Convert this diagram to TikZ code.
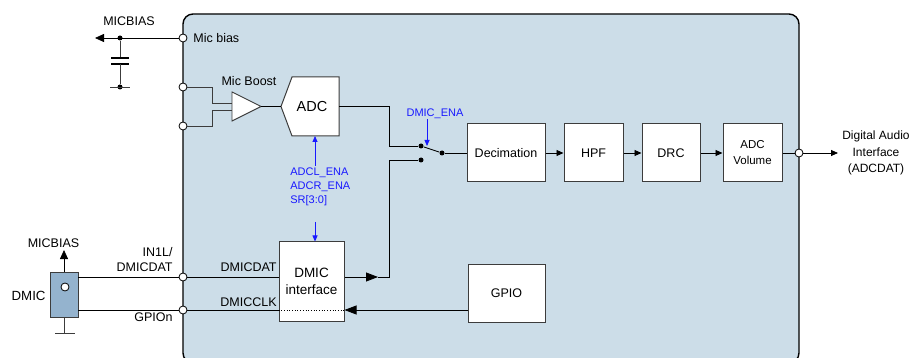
\documentclass[tikz,border=0pt]{standalone}
\usepackage{fontspec}
\setmainfont{Liberation Sans}
\usetikzlibrary{arrows.meta}
\definecolor{chip}{RGB}{204,221,232}
\definecolor{micfill}{RGB}{148,179,206}
\definecolor{sigblue}{RGB}{25,25,255}
\definecolor{edge}{RGB}{60,60,60}
\begin{document}
\begin{tikzpicture}[x=1pt,y=-1pt,
  font=\fontsize{12.5}{14}\selectfont,
  line width=0.8pt,
  blk/.style={draw=edge, fill=white, line width=1pt, inner sep=0pt, minimum height=58pt, align=center},
  pin/.style={circle, draw=black, fill=white, line width=0.8pt, inner sep=0pt, minimum size=8pt},
  jdot/.style={circle, fill=black, inner sep=0pt, minimum size=5pt},
  arr/.style={-{Triangle[length=7pt,width=6pt]}},
  bigarr/.style={-{Triangle[length=12pt,width=9pt]}},
  midarr/.style={-{Triangle[length=9pt,width=8pt]}},
  barr/.style={draw=sigblue, -{Triangle[length=6pt,width=5pt]}},
  bluetxt/.style={font=\fontsize{11}{13}\selectfont, text=sigblue, inner sep=0pt},
  lbl/.style={inner sep=0pt}
]
\useasboundingbox (0,0) rectangle (913,358);
\clip (0,0) rectangle (913,358);

% chip outline
\draw[fill=chip, line width=1.4pt, rounded corners=10pt] (183,14) rectangle (799,363);

% pins
\node[pin] (pbias) at (183,38) {};
\node[pin] (pin1) at (183,87) {};
\node[pin] (pin2) at (183,126) {};
\node[pin] (pdat) at (183,277) {};
\node[pin] (pclk) at (183,310) {};
\node[pin] (pout) at (799,153) {};

% mic bias with capacitor
\node[jdot] (jb) at (120,38) {};
\coordinate (biasend) at (95,38);
\draw[midarr] (pbias.west) -- (biasend);
\node[lbl] (lmicbias) at (129,21) {MICBIAS};
\node[lbl, anchor=west] (lbias) at (193,38) {Mic bias};
\coordinate (capa) at (120,58);
\coordinate (capb) at (120,64);
\node[jdot] (capgnd) at (120,87) {};
\draw[draw=edge] (jb) -- (capa);
\draw[line width=2.2pt] (111,58) -- (129,58);
\draw[line width=2.2pt] (111,64) -- (129,64);
\draw[draw=edge] (capb) -- (capgnd);
\draw[draw=edge] (110,87) -- (130,87);

% mic boost
\coordinate (triA) at (232,92);
\coordinate (triB) at (261,106.5);
\coordinate (triC) at (232,121);
\draw[draw=edge, fill=white, line width=0.9pt] (triA) -- (triB) -- (triC) -- cycle;
\node[lbl] (lboost) at (249,81) {Mic Boost};
\draw[draw=edge] (pin1.east) -- (212,87) -- (212,103.5) -- (232,103.5);
\draw[draw=edge] (pin2.east) -- (212,126) -- (212,110) -- (232,110);

% ADC
\coordinate (adcL) at (281,106.5);
\coordinate (adcR) at (339,106.5);
\coordinate (adcB) at (315,136);
\draw[draw=edge, fill=white, line width=1pt] (292,77) -- (339,77) -- (339,136) -- (292,136) -- (adcL) -- cycle;
\node[lbl, font=\fontsize{14.5}{16}\selectfont] (adc) at (312,106.5) {ADC};
\draw (triB) -- (adcL);

% switch
\node[jdot] (sw1) at (421,146) {};
\node[jdot] (sw2) at (421,160) {};
\node[jdot] (swc) at (442,153) {};
\draw (adcR) -- (389,106.5) -- (389,146) -- (sw1);
\draw (sw1) -- (swc);

% processing chain
\node[blk, minimum width=78pt] (dec) at (506,153) {Decimation};
\node[blk, minimum width=59pt] (hpf) at (593.5,153) {HPF};
\node[blk, minimum width=58pt] (drc) at (671,153) {DRC};
\node[blk, minimum width=59pt, font=\fontsize{11.5}{16}\selectfont] (vol) at (752.5,153) {ADC\\Volume};
\draw (swc) -- (dec.west);
\draw[arr] (dec) -- (hpf);
\draw[arr] (hpf) -- (drc);
\draw[arr] (drc) -- (vol);
\draw (vol.east) -- (pout);
\coordinate (outend) at (838,153);
\draw[arr] (pout) -- (outend);
\node[lbl, align=center, font=\fontsize{12}{16.5}\selectfont] (ldai) at (876,153) {Digital Audio\\Interface\\(ADCDAT)};

% DMIC_ENA
\node[bluetxt] (lena) at (435,114) {DMIC\_ENA};
\coordinate (enatip) at (427,146);
\draw[barr] (lena.south -| enatip) -- (enatip);

% ADC enables
\node[bluetxt, anchor=west] (l1) at (290,173) {ADCL\_ENA};
\node[bluetxt, anchor=west] (l2) at (290,187) {ADCR\_ENA};
\node[bluetxt, anchor=west] (l3) at (290,200.5) {SR[3:0]};
\coordinate (upstart) at (315,166);
\coordinate (dnstart) at (315,222);

% DMIC interface
\node[blk, minimum width=65pt, minimum height=79pt, font=\fontsize{13.5}{17}\selectfont] (dmicif) at (311.5,281.5) {DMIC\\interface};
\draw[barr] (upstart) -- (adcB);
\draw[barr] (dnstart) -- (dmicif.north -| dnstart);
\draw[dotted, line width=0.7pt] (dmicif.west |- pclk) -- (dmicif.east |- pclk);

% DMIC interface output to switch
\coordinate (ah1) at (378,277);
\draw[bigarr] (dmicif.east |- pdat) -- (ah1);
\draw (ah1) -- (389,277) -- (389,160) -- (sw2);

% GPIO
\node[blk, minimum width=77pt] (gpio) at (506.5,293) {GPIO};
\draw[bigarr] (gpio.west |- pclk) -- (dmicif.east |- pclk);
\draw (dmicif.west |- pclk) -- (pclk);
\draw (pdat) -- (dmicif.west |- pdat);
\node[lbl, anchor=east] (ldat) at (277,267) {DMICDAT};
\node[lbl, anchor=east] (lclk) at (277,302) {DMICCLK};

% external DMIC
\node[draw=edge, fill=micfill, minimum width=28pt, minimum height=45pt, inner sep=0pt, line width=0.9pt] (mic) at (64,294.5) {};
\node[circle, draw=black, fill=white, inner sep=0pt, minimum size=8pt, line width=0.8pt] (micdot) at (65,287) {};
\coordinate (micarr) at (64,250);
\draw[midarr] (mic.north) -- (micarr);
\node[lbl] (lmicbias2) at (53.5,243) {MICBIAS};
\coordinate (micgnd) at (64,333);
\draw[draw=edge] (mic.south) -- (micgnd);
\draw[draw=edge] (55,333) -- (75,333);
\node[lbl, anchor=east, font=\fontsize{13.3}{15}\selectfont] (ldmic) at (46,296) {DMIC};
\draw (pdat) -- (mic.east |- pdat);
\draw (pclk) -- (mic.east |- pclk);
\node[lbl, anchor=east] (lin1) at (173,252) {IN1L/};
\node[lbl, anchor=east] (lin2) at (173,267) {DMICDAT};
\node[lbl, anchor=east] (lgpio) at (173,317) {GPIOn};
\end{tikzpicture}
\end{document}
